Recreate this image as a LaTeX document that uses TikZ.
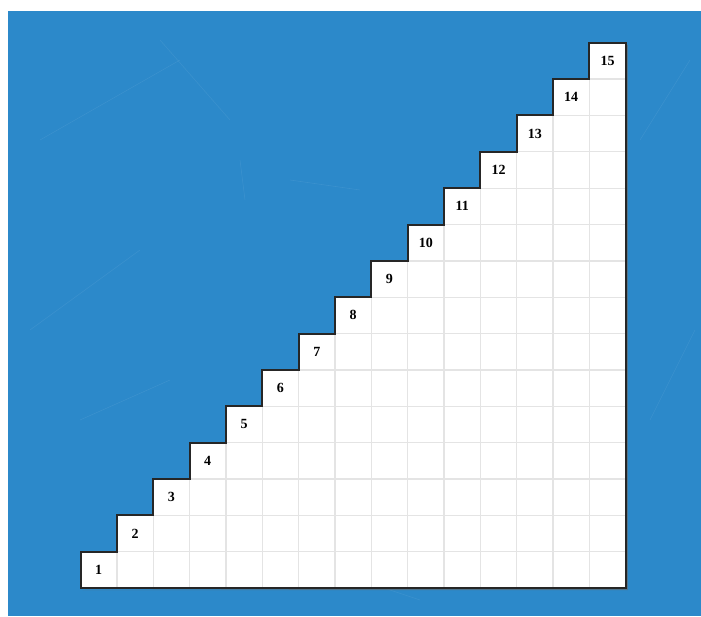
\documentclass[tikz,border=0pt]{standalone}
\usepackage{fontspec}
\setmainfont{Liberation Serif}
\definecolor{bgblue}{HTML}{2C89CA}
\definecolor{gridgray}{HTML}{E4E4E4}
\tikzset{
  numlabel/.style={font=\bfseries\fontsize{14}{14}\selectfont, inner sep=0pt},
  gridline/.style={draw=gridgray, line width=1.3pt},
  outline/.style={draw=black!85, line width=2pt, line join=miter},
}
\begin{document}
\begin{tikzpicture}[x=1pt,y=-1pt]
\useasboundingbox (0,0) rectangle (701,616);
\fill[white] (0,0) rectangle (701,616);
\fill[bgblue] (8,11) rectangle (701,616);
% faint scratches
\begin{scope}[draw=white, opacity=0.07, line width=0.6pt]
\draw (40,140) -- (180,60);
\draw (160,40) -- (230,120);
\draw (30,330) -- (140,250);
\draw (240,160) -- (245,200);
\draw (290,180) -- (360,190);
\draw (640,140) -- (690,60);
\draw (300,560) -- (420,600);
\draw (650,420) -- (695,330);
\draw (80,420) -- (170,380);
\end{scope}
\def\xo{80.5}
\def\yo{588}
\def\s{36.35}
% shadow
\fill[black!60, opacity=0.6] (\xo+2,\yo+2) -- (\xo+15*\s+2,\yo+2) -- (\xo+15*\s+2,\yo-15*\s+2) -- (\xo+15*\s,\yo-15*\s+2) -- (\xo+15*\s,\yo) -- cycle;
% white staircase
\path[fill=white] (\xo,\yo)
  \foreach \i in {1,...,15} { -- (\xo+\i*\s-\s,\yo-\i*\s) -- (\xo+\i*\s,\yo-\i*\s) }
  -- (\xo+15*\s,\yo) -- cycle;
% grid
\foreach \k in {1,...,14} {
  \draw[gridline] (\xo+\k*\s,\yo) -- (\xo+\k*\s,\yo-\k*\s);
  \draw[gridline] (\xo+\k*\s,\yo-\k*\s) -- (\xo+15*\s,\yo-\k*\s);
}
% outline
\draw[outline] (\xo,\yo)
  \foreach \i in {1,...,15} { -- (\xo+\i*\s-\s,\yo-\i*\s) -- (\xo+\i*\s,\yo-\i*\s) }
  -- (\xo+15*\s,\yo) -- cycle;
% numbers
\foreach \i in {1,...,15} {
  \node[numlabel] (n\i) at (\xo+\i*\s-0.5*\s,\yo-\i*\s+0.5*\s) {\i};
}
\end{tikzpicture}
\end{document}
